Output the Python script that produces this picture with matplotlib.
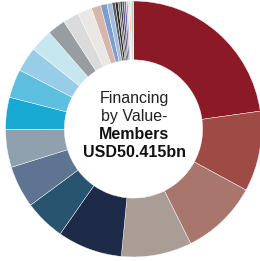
import matplotlib
matplotlib.use("Agg")
import matplotlib.pyplot as plt

values = [11.48, 5.11, 4.90, 4.48, 4.13, 2.60, 2.67, 2.42, 2.03, 1.82,
          1.57, 1.44, 1.15, 1.02, 0.91, 0.59,
          0.41, 0.32, 0.20, 0.18, 0.13, 0.13, 0.14, 0.13, 0.10, 0.07,
          0.10, 0.06, 0.08, 0.04]
colors = ["#8b1a26", "#9e4b45", "#a8766d", "#aa9d96", "#1d2b48", "#285470",
          "#5f7392", "#8fa1ae", "#17a9d2", "#5dbfdf", "#98cde7", "#c7e7f0",
          "#989da1", "#dbdbdb", "#ebe7e4", "#d6b6aa",
          "#7e9dcb", "#a3bde0", "#5a5a5a", "#2a2a2a", "#6f6f6f", "#3a3a3a",
          "#5e5280", "#7d6ea0", "#b3a6cf", "#d8cfe6", "#f3c8a0", "#e8d8d0",
          "#5f9d86", "#9fc9b8"]
title_lines = ["Financing", "by Value-"]
total_lines = ["Members", "USD50.415bn"]

plt.rcParams['font.family'] = ['Liberation Sans', 'DejaVu Sans']

fig = plt.figure(figsize=(2.6, 2.61), dpi=100)
ax = fig.add_axes([0, 0, 1, 1])

ax.pie(values, colors=colors, startangle=90, counterclock=False, radius=1,
       wedgeprops=dict(width=0.46, edgecolor="white", linewidth=0.3))

# pixel frame: centre at (133.5, 129), outer radius 128 px
R = 128.0
ax.set_xlim(-133.5 / R, 126.5 / R)
ax.set_ylim(-132.0 / R, 129.0 / R)
ax.set_aspect('auto')
ax.axis('off')

def py(p):
    return (129.0 - p) / R

x0 = 0.5 / R
for txt, b in zip(title_lines, [102.5, 120.5]):
    ax.text(x0, py(b), txt, ha='center', va='baseline', fontsize=11.5, color="#222222")
for txt, b in zip(total_lines, [138.5, 156.5]):
    ax.text(x0, py(b), txt, ha='center', va='baseline', fontsize=11.5,
            fontweight='bold', color="#111111")

fig.savefig("out.png", dpi=100)
